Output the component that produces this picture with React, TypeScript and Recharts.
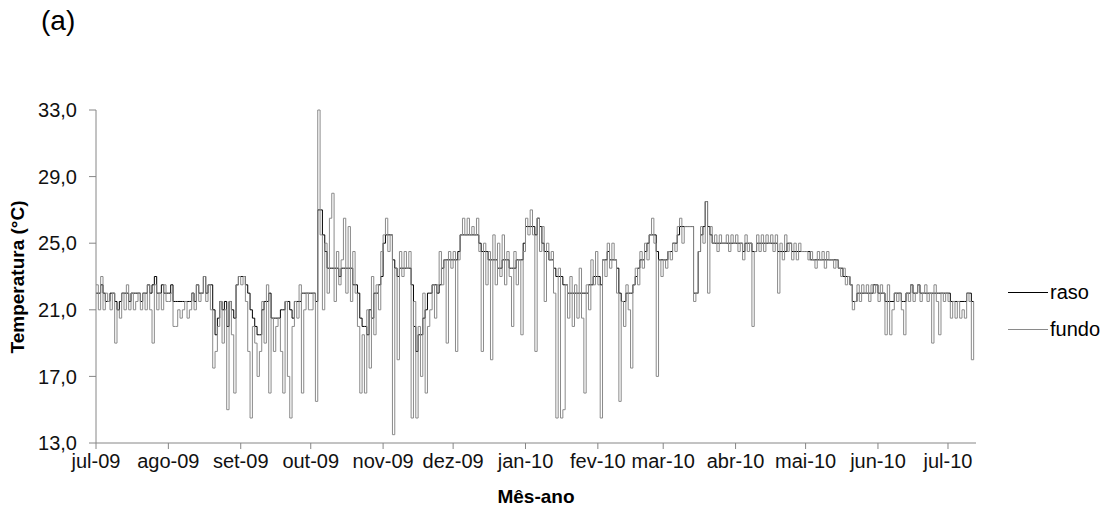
import { LineChart, Line, XAxis, YAxis } from "recharts";

// month tick labels (pt-BR) and the day index where each month starts
const monthLabels = ["jul-09", "ago-09", "set-09", "out-09", "nov-09", "dez-09", "jan-10", "fev-10", "mar-10", "abr-10", "mai-10", "jun-10", "jul-10"];
const monthTicks = [0, 31, 62, 92, 123, 153, 184, 215, 243, 274, 304, 335, 365];
const tempTicks = [13, 17, 21, 25, 29, 33];

// daily temperature (°C)
const rasoJul09 = [22, 22, 22.5, 22, 21.5, 21.5, 22, 22, 21.5, 21, 21.5, 22, 22, 22, 21.5, 22, 22, 22, 22, 21.5, 22, 22, 22.5, 22, 22.5, 23, 22, 22, 22.5, 22, 22];
const rasoAgo09 = [22, 22.5, 21.5, 21.5, 21.5, 21.5, 21.5, 21.5, 21.5, 21.5, 22, 21.5, 22.5, 22, 22, 23, 22, 22.5, 22.5, 21, 19.5, 20.5, 21.5, 21, 21.5, 20, 21.5, 21, 20.5, 22.5, 23];
const rasoSet09 = [23, 23, 22.5, 22, 21, 20.5, 20, 19.5, 19.5, 21, 21.5, 21.5, 22, 20.5, 20.5, 20.5, 20.5, 21, 21, 21.5, 21.5, 21, 20.5, 21.5, 21.5, 21.5, 22, 22, 22, 22];
const rasoOut09 = [22, 22, 21.5, 27, 27, 25.5, 24.5, 23.5, 23.5, 23.5, 23.5, 23.5, 23, 23.5, 23.5, 23.5, 23.5, 23.5, 22.5, 22.5, 22, 20.5, 20, 20, 19.5, 21, 20.5, 22, 22, 22.5, 23];
const rasoNov09 = [25, 25.5, 25.5, 25.5, 24, 23.5, 23, 23.5, 23.5, 23.5, 23.5, 23.5, 22.5, 20, 18.5, 19.5, 19.5, 20.5, 21, 22, 22, 22.5, 22.5, 22, 22.5, 23.5, 24, 24, 24, 24];
const rasoDez09 = [24, 24, 24.5, 25.5, 25.5, 25.5, 25.5, 25.5, 25.5, 25.5, 25.5, 25, 24.5, 24.5, 24.5, 24, 24, 24, 24, 23.5, 23.5, 24, 24, 24, 23.5, 23.5, 23.5, 24, 24, 24, 25];
const rasoJan10 = [26, 26, 26, 26, 25.5, 26.5, 26, 25, 24.5, 24.5, 24, 24, 23.5, 23, 23, 23, 22.5, 22.5, 22, 22, 22, 22, 22, 22, 22, 22, 22, 22.5, 22.5, 23, 23];
const rasoFev10 = [23, 22.5, 24, 24, 24.5, 24, 24, 24, 23.5, 22, 21.5, 21.5, 22, 22, 22, 22.5, 23, 23.5, 24, 24, 24.5, 25, 25.5, 25.5, 25.5, 24.5, 24, 24];
const rasoMar10 = [24, 24, 24.5, 24.5, 25, 25, 25.5, 26, 26, 26, 26, 26, 26, 22, 22, 24.5, 25.5, 26, 27.5, 26, 25.5, 25, 25, 25, 25, 25, 25, 25, 25, 25, 25];
const rasoAbr10 = [25, 25, 25, 24.5, 25, 25, 25, 24.5, 24.5, 25, 25, 25, 25, 25, 25, 25, 25, 25, 24.5, 24.5, 24.5, 24.5, 25, 25, 24.5, 24.5, 24.5, 24.5, 24.5, 24.5];
const rasoMai10 = [24.5, 24.5, 24, 24, 24, 24, 24, 24, 24, 24, 24, 24, 24, 24, 23.5, 23.5, 23, 23, 23, 22.5, 21.5, 21.5, 22, 22, 22, 22, 22, 22, 22, 22.5, 22.5];
const rasoJun10 = [22, 22, 22, 21.5, 21.5, 21.5, 21.5, 22, 22, 22, 21.5, 21.5, 22, 22, 22.5, 22, 22, 22.5, 22, 22, 22, 22, 22, 22, 22, 22, 22, 22, 22, 22];
const rasoJul10 = [22, 21.5, 21.5, 21.5, 21.5, 21.5, 21.5, 21.5, 22, 22, 21.5, 21.5];

const fundoJul09 = [22.5, 21, 23, 21, 22, 21.5, 21, 22, 19, 21, 20.5, 22, 21, 22.5, 21, 22, 21, 21.5, 22, 21, 22, 21, 22.5, 21, 19, 22.5, 21, 22, 21, 22.5, 21.5];
const fundoAgo09 = [21.5, 22, 20, 20, 21, 20.5, 21, 21.5, 20.5, 21, 22, 21, 22.5, 21.5, 22, 23, 21.5, 22.5, 21, 17.5, 18.5, 20, 21.5, 19, 21, 15, 21.5, 19.5, 16, 22.5, 23];
const fundoSet09 = [22.5, 23, 21.5, 18.5, 14.5, 20, 19, 17, 18.5, 21.5, 19, 22.5, 16, 20.5, 18.5, 20, 20.5, 18.5, 16, 21.5, 17, 14.5, 20, 21.5, 20.5, 22.5, 16, 21, 22, 21];
const fundoOut09 = [21, 22, 15.5, 33, 25.5, 21, 25, 22, 26.5, 28, 21.5, 24.5, 22.5, 24, 26.5, 22, 26, 21.5, 24.5, 22, 20, 16, 19.5, 16, 21, 17.5, 23, 19.5, 22.5, 21, 24.5];
const fundoNov09 = [25.5, 26.5, 24.5, 25.5, 13.5, 23.5, 18, 24.5, 23, 24.5, 23.5, 24.5, 14.5, 21.5, 14.5, 20, 17, 22, 16, 20, 21, 22.5, 20.5, 22.5, 24.5, 22.5, 24, 19, 24.5, 23.5];
const fundoDez09 = [24.5, 18.5, 24, 25.5, 26.5, 25.5, 26.5, 25.5, 26, 25.5, 26.5, 24.5, 18.5, 25, 22.5, 24.5, 18, 25.5, 22.5, 25, 23, 25.5, 22.5, 24.5, 23, 20, 24.5, 22.5, 24, 19.5, 24.5];
const fundoJan10 = [26.5, 25.5, 27, 25.5, 18.5, 26.5, 24.5, 26, 21.5, 25, 24, 24.5, 22, 14.5, 23.5, 14.5, 15, 22.5, 20.5, 23, 20, 22.5, 20.5, 23.5, 20.5, 16, 22.5, 21, 24, 22.5, 24.5];
const fundoFev10 = [22.5, 14.5, 24, 23, 25, 23.5, 25, 24, 22, 15.5, 21.5, 20, 22.5, 21, 17.5, 22.5, 23.5, 22.5, 24.5, 23.5, 25, 24, 25.5, 26.5, 25, 17, 24, 23];
const fundoMar10 = [24, 23.5, 24.5, 24, 25, 24.5, 26, 26.5, 25, 26, 26, 26, 26, 21.5, 22, 24.5, 26, 25, 27.5, 22, 26, 25, 25.5, 24.5, 25.5, 25, 25, 25.5, 24.5, 25.5, 25];
const fundoAbr10 = [25.5, 24.5, 25, 24, 25.5, 24.5, 25, 20, 24.5, 25.5, 24.5, 25.5, 24.5, 25.5, 25, 25.5, 24.5, 25.5, 22, 25, 24, 25.5, 24.5, 25, 24, 25, 24, 25, 24.5, 24.5];
const fundoMai10 = [24.5, 24, 24.5, 24, 23.5, 24.5, 24, 24.5, 23.5, 24.5, 24, 24, 23.5, 24, 23.5, 23, 23.5, 22.5, 23, 22.5, 21, 21.5, 22.5, 21.5, 22.5, 22, 22.5, 21.5, 22.5, 22, 22.5];
const fundoJun10 = [21.5, 22.5, 22, 19.5, 22.5, 19.5, 21, 22, 21.5, 22, 21, 19.5, 22, 21.5, 22.5, 21.5, 22, 22.5, 21.5, 22, 22.5, 21.5, 22, 19, 22.5, 21.5, 19.5, 22, 21.5, 22];
const fundoJul10 = [21.5, 20.5, 21.5, 20.5, 21.5, 20.5, 21, 20.5, 22, 21.5, 18, 21.5];

const raso = [...rasoJul09, ...rasoAgo09, ...rasoSet09, ...rasoOut09, ...rasoNov09, ...rasoDez09, ...rasoJan10, ...rasoFev10, ...rasoMar10, ...rasoAbr10, ...rasoMai10, ...rasoJun10, ...rasoJul10];
const fundo = [...fundoJul09, ...fundoAgo09, ...fundoSet09, ...fundoOut09, ...fundoNov09, ...fundoDez09, ...fundoJan10, ...fundoFev10, ...fundoMar10, ...fundoAbr10, ...fundoMai10, ...fundoJun10, ...fundoJul10];

const data = raso.map((v, i) => ({ day: i, raso: v, fundo: fundo[i] }));

const font = '"Liberation Sans", Arial, sans-serif';
const axisColor = "#868686";

export default function App() {
  return (
    <div style={{ position: "relative", width: 1111, height: 511, margin: -8, background: "#fff", fontFamily: font, color: "#000" }}>
      <div style={{ position: "absolute", left: 41, top: 5, fontSize: 28 }}>(a)</div>

      <LineChart width={1111} height={511} data={data} margin={{ top: 110, right: 135, bottom: 38, left: 36 }}>
        <XAxis
          type="number" dataKey="day" domain={[0, 377]} ticks={monthTicks} interval={0}
          tickFormatter={(d: number) => monthLabels[monthTicks.indexOf(d)]}
          height={30} tickSize={6} tickMargin={5}
          axisLine={{ stroke: axisColor }} tickLine={{ stroke: axisColor }}
          tick={{ fill: "#111", fontSize: 20, fontFamily: font }}
        />
        <YAxis
          type="number" domain={[13, 33]} ticks={tempTicks} interval={0}
          tickFormatter={(v: number) => v.toFixed(1).replace(".", ",")}
          width={60} tickSize={7} tickMargin={12}
          axisLine={{ stroke: axisColor }} tickLine={{ stroke: axisColor }}
          tick={{ fill: "#111", fontSize: 20, fontFamily: font }}
        />
        <Line type="stepAfter" dataKey="raso" stroke="#000" strokeWidth={1} dot={false} isAnimationActive={false} />
        <Line type="stepAfter" dataKey="fundo" stroke="#8a8a8a" strokeWidth={1} dot={false} isAnimationActive={false} />
      </LineChart>

      <div style={{ position: "absolute", left: 0, top: 0, width: 36, height: 554, display: "flex", alignItems: "center", justifyContent: "center" }}>
        <div style={{ transform: "rotate(-90deg)", whiteSpace: "nowrap", fontWeight: 700, fontSize: 19 }}>Temperatura (°C)</div>
      </div>
      <div style={{ position: "absolute", left: 96, width: 880, top: 486, textAlign: "center", fontWeight: 700, fontSize: 19 }}>Mês-ano</div>

      <div style={{ position: "absolute", left: 1008, top: 281, display: "flex", alignItems: "center", fontSize: 20 }}>
        <span style={{ display: "inline-block", width: 40, height: 0, borderTop: "1px solid #000", marginRight: 2 }} />
        <span>raso</span>
      </div>
      <div style={{ position: "absolute", left: 1008, top: 318, display: "flex", alignItems: "center", fontSize: 20 }}>
        <span style={{ display: "inline-block", width: 40, height: 0, borderTop: "1px solid #8a8a8a", marginRight: 2 }} />
        <span>fundo</span>
      </div>
    </div>
  );
}
